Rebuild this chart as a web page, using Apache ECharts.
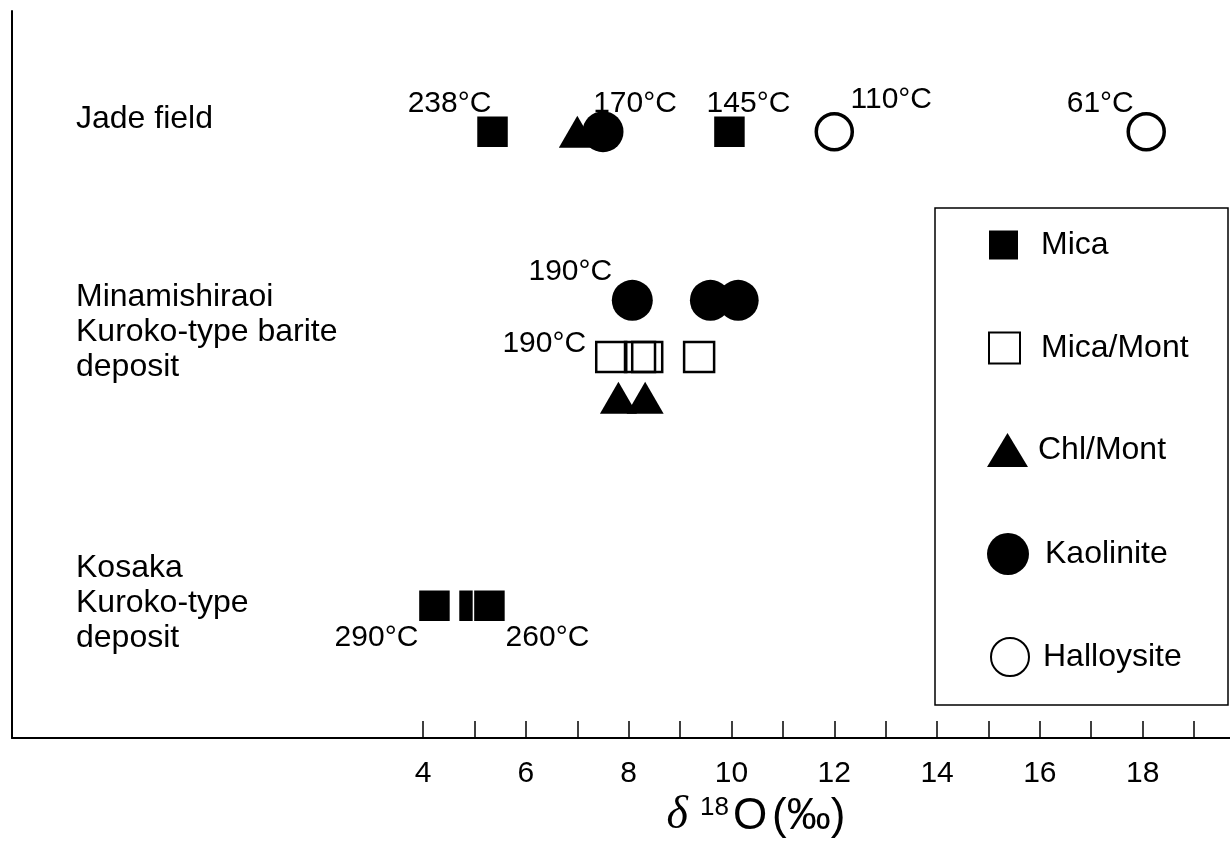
<!DOCTYPE html>
<html>
<head>
<meta charset="utf-8">
<script src="https://cdn.jsdelivr.net/npm/echarts@6/dist/echarts.min.js"></script>
<style>
html,body{margin:0;padding:0;background:#fff;}
#chart{width:1230px;height:845px;}
</style>
</head>
<body>
<div id="chart"></div>
<script>
// ---- data ----
const xTickValues = [4,5,6,7,8,9,10,11,12,13,14,15,16,17,18,19];
const xLabelValues = [4,6,8,10,12,14,16,18];

// row positions (arbitrary vertical units)
const JADE_Y = 8.34;
const MINA_KAO_Y = 6.02;
const MINA_MM_Y = 5.24;
const MINA_CHL_Y = 4.68;
const KOSAKA_Y = 1.82;

// delta 18O values
const jadeMica = [5.35, 9.96];
const kosakaMica = [4.22, 5.0, 5.29];
const minaMicaMont = [7.66, 8.22, 8.36, 9.37];
const jadeChlMont = [7.0];
const minaChlMont = [7.8, 8.32];
const jadeKaolinite = [7.5];
const minaKaolinite = [8.07, 9.59, 10.13];
const jadeHalloysite = [12.0, 18.07];

const rowLabels = [
  {text: 'Jade field', y: JADE_Y},
  {text: 'Minamishiraoi\nKuroko-type barite\ndeposit', y: MINA_MM_Y},
  {text: 'Kosaka\nKuroko-type\ndeposit', y: KOSAKA_Y}
];

// temperature annotations
const tempLabels = {
  'jadeMica-0': ['238°C', [-43, -28]],
  'jadeMica-1': ['145°C', [19, -28]],
  'jadeKaolinite-0': ['170°C', [32, -28]],
  'jadeHalloysite-0': ['110°C', [57, -32]],
  'jadeHalloysite-1': ['61°C', [-46, -28]],
  'minaKaolinite-0': ['190°C', [-62, -29]],
  'minaMicaMont-0': ['190°C', [-67, -13]],
  'kosakaMica-0': ['290°C', [-58, 32]],
  'kosakaMica-2': ['260°C', [58, 32]]
};

const FONT = 'Liberation Sans, Arial, Helvetica, sans-serif';

function pts(key, xs, y) {
  return xs.map((x, i) => {
    const t = tempLabels[key + '-' + i];
    const item = {value: [x, y]};
    if (t) {
      item.label = {
        show: true, formatter: t[0], position: 'inside', offset: t[1],
        color: '#000', fontSize: 30, fontFamily: FONT,
        textBorderWidth: 0, align: 'center', verticalAlign: 'middle'
      };
    }
    return item;
  });
}

const chart = echarts.init(document.getElementById('chart'), null, {renderer: 'canvas'});

function legendItem(name, icon, left, centerY, w, h, pad) {
  return {
    data: [{name: name, icon: icon}],
    left: left, top: centerY - h / 2,
    itemWidth: w, itemHeight: h, padding: 0,
    selectedMode: false,
    textStyle: {fontSize: 32, fontFamily: FONT, color: '#000', lineHeight: 30, padding: [0, 0, 0, pad]}
  };
}

const option = {
  backgroundColor: '#fff',
  animation: false,
  grid: {left: 12, right: 0, top: 11, bottom: 107, containLabel: false},
  xAxis: {
    type: 'value', min: -4, max: 19.7,
    axisLine: {show: true, onZero: false, lineStyle: {color: '#000', width: 2}},
    axisTick: {show: true, inside: true, length: 17, customValues: xTickValues, lineStyle: {color: '#000', width: 1.5}},
    axisLabel: {show: true, customValues: xLabelValues, fontSize: 30, fontFamily: FONT, color: '#000', margin: 21},
    splitLine: {show: false}
  },
  yAxis: {
    type: 'value', min: 0, max: 10,
    axisLine: {show: true, onZero: false, lineStyle: {color: '#000', width: 2}},
    axisTick: {show: false}, axisLabel: {show: false}, splitLine: {show: false}
  },
  legend: [
    legendItem('Mica', 'rect', 987, 244, 31, 31, 17),
    legendItem('Mica/Mont', 'rect', 988, 347, 31, 31, 16),
    legendItem('Chl/Mont', 'triangle', 987, 450, 41, 34, 5),
    legendItem('Kaolinite', 'circle', 987, 554, 42, 42, 11),
    legendItem('Halloysite', 'circle', 990, 656, 38, 38, 9)
  ],
  series: [
    {
      name: 'Chl/Mont', type: 'scatter', symbol: 'triangle', symbolSize: [37, 32], z: 2,
      itemStyle: {color: '#000', opacity: 1},
      data: pts('jadeChlMont', jadeChlMont, JADE_Y).concat(pts('minaChlMont', minaChlMont, MINA_CHL_Y))
    },
    {
      name: 'Kaolinite', type: 'scatter', symbol: 'circle', symbolSize: 41, z: 3,
      itemStyle: {color: '#000', opacity: 1},
      data: pts('jadeKaolinite', jadeKaolinite, JADE_Y).concat(pts('minaKaolinite', minaKaolinite, MINA_KAO_Y))
    },
    {
      name: 'Mica', type: 'scatter', symbol: 'rect', symbolSize: 32, z: 4,
      itemStyle: {color: '#000', borderColor: '#fff', borderWidth: 1.5, opacity: 1},
      data: pts('jadeMica', jadeMica, JADE_Y).concat(pts('kosakaMica', kosakaMica, KOSAKA_Y))
    },
    {
      name: 'Mica/Mont', type: 'scatter', symbol: 'rect', symbolSize: 30, z: 4,
      itemStyle: {color: 'rgba(255,255,255,0)', borderColor: '#000', borderWidth: 2.5, opacity: 1},
      data: pts('minaMicaMont', minaMicaMont, MINA_MM_Y)
    },
    {
      name: 'Halloysite', type: 'scatter', symbol: 'circle', symbolSize: 36, z: 4,
      itemStyle: {color: '#fff', borderColor: '#000', borderWidth: 3.5, opacity: 1},
      data: pts('jadeHalloysite', jadeHalloysite, JADE_Y)
    }
  ],
  graphic: [
    {
      type: 'rect', z: 0, silent: true,
      shape: {x: 935, y: 208, width: 293, height: 497},
      style: {fill: 'none', stroke: '#000', lineWidth: 1.5}
    },
    {
      type: 'text', x: 756, y: 816, silent: true,
      style: {
        text: '{d|δ}{s|18}{o|O}{p|(‰)}',
        align: 'center', verticalAlign: 'middle',
        rich: {
          d: {fontSize: 46, fontFamily: 'Liberation Serif, serif', fontStyle: 'italic', fill: '#000', verticalAlign: 'bottom', padding: [0, 12, 0, 0]},
          s: {fontSize: 26, fontFamily: FONT, fill: '#000', verticalAlign: 'top', padding: [2, 4, 0, 0]},
          o: {fontSize: 44, fontFamily: FONT, fill: '#000', verticalAlign: 'bottom'},
          p: {fontSize: 44, fontFamily: FONT, fill: '#000', verticalAlign: 'bottom', padding: [0, 0, 0, 5]}
        }
      }
    }
  ]
};

chart.setOption(option);

// row labels positioned through the y scale
const rowGraphics = rowLabels.map(r => ({
  type: 'text', x: 76, y: chart.convertToPixel({yAxisIndex: 0}, r.y), silent: true,
  style: {text: r.text, fontSize: 32, fontFamily: FONT, fill: '#000', lineHeight: 35, verticalAlign: 'middle', align: 'left'}
}));
rowGraphics[0].y -= 13;
rowGraphics[1].y -= 25;
rowGraphics[2].y -= 3;
chart.setOption({graphic: option.graphic.concat(rowGraphics)});
</script>
</body>
</html>
